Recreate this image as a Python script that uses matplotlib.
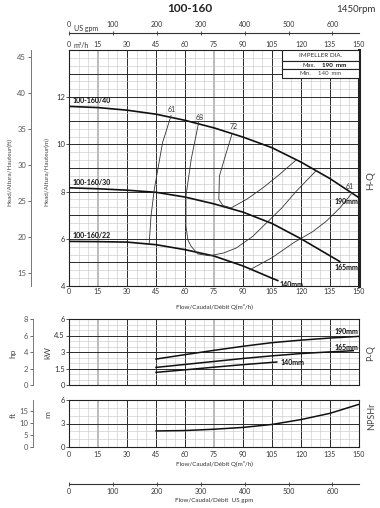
import numpy as np
import matplotlib
matplotlib.use("Agg")
import matplotlib.pyplot as plt
from matplotlib.patches import Rectangle

plt.rcParams['font.family'] = ['Lato', 'DejaVu Sans']

# flow scale
q_ticks = [0, 15, 30, 45, 60, 75, 90, 105, 120, 135, 150]
gpm_ticks = [0, 100, 200, 300, 400, 500, 600]
GPM = 0.22712  # m3/h for one US gpm

# H-Q curves (m3/h, m)
q_190 = [0, 15, 30, 45, 60, 75, 90, 105, 120, 135, 150]
h_190 = [11.61, 11.56, 11.45, 11.28, 11.02, 10.70, 10.31, 9.86, 9.25, 8.55, 7.74]
q_165 = [0, 15, 30, 45, 60, 75, 90, 105, 120, 135, 140]
h_165 = [8.16, 8.12, 8.06, 7.97, 7.77, 7.48, 7.13, 6.65, 6.00, 5.28, 5.04]
q_140 = [0, 15, 30, 45, 60, 75, 90, 105, 108]
h_140 = [5.89, 5.88, 5.86, 5.75, 5.54, 5.27, 4.85, 4.33, 4.23]

# efficiency lines (%)
q_e61a = [52.8, 48.4, 44.1, 42.4, 41.5]
h_e61a = [11.22, 10.08, 8.09, 6.95, 5.82]
q_e68 = [67.1, 63.2, 60.5, 60.5, 61.5, 63.2, 66.6, 72.7, 80, 86.5, 95, 102.1, 110, 117.6, 128.0]
h_e68 = [10.94, 9.37, 7.81, 6.53, 5.95, 5.68, 5.36, 5.28, 5.40, 5.61, 6.10, 6.67, 7.30, 8.02, 8.90]
q_e72 = [84.4, 81.0, 77.8, 77.5, 79.6, 83.9, 92.0, 100.3, 108.5, 117.5]
h_e72 = [10.47, 9.55, 8.66, 7.67, 7.41, 7.31, 7.68, 8.16, 8.70, 9.34]
q_e61b = [93.4, 105, 116.5, 126, 133, 140, 146.5]
h_e61b = [4.68, 5.20, 5.85, 6.30, 6.74, 7.30, 7.95]

# P-Q curves (kW)
q_p190 = [45, 60, 75, 90, 105, 120, 135, 150]
p_190 = [2.36, 2.76, 3.15, 3.52, 3.85, 4.08, 4.27, 4.42]
q_p165 = [45, 60, 75, 90, 105, 120, 135, 147]
p_165 = [1.60, 1.87, 2.14, 2.41, 2.65, 2.86, 3.01, 3.12]
q_p140 = [45, 60, 75, 90, 107.5]
p_140 = [1.15, 1.38, 1.62, 1.85, 2.09]

# NPSHr (m)
q_npsh = [45, 60, 75, 90, 105, 120, 135, 150]
npsh = [2.05, 2.10, 2.27, 2.50, 2.88, 3.50, 4.30, 5.45]

W, H = 380, 508
fig = plt.figure(figsize=(W / 100, H / 100), dpi=100)


def box(x0, y0, x1, y1):
    return [x0 / W, 1 - y1 / H, (x1 - x0) / W, (y1 - y0) / H]


def ftext(x, y, s, **kw):
    fig.text(x / W, 1 - y / H, s, **kw)


def draw_grid(ax, ylines, every):
    for x in range(0, 151, 5):
        if x % 15:
            ax.axvline(x, color='#c4c4c4', lw=0.4, zorder=0)
        elif x in (15, 75):
            ax.axvline(x, color='#a8a8a8', lw=1.1, zorder=0)
        else:
            ax.axvline(x, color='#2a2a2a', lw=0.7, zorder=0)
    for i, y in enumerate(ylines):
        if i % every:
            ax.axhline(y, color='#c4c4c4', lw=0.4, zorder=0)
        else:
            ax.axhline(y, color='#2a2a2a', lw=0.7, zorder=0)


def unit_axis(ax, factor, ticks, xpos):
    tw = ax.twinx()
    lo, hi = ax.get_ylim()
    tw.set_ylim(lo * factor, hi * factor)
    for s in ['top', 'right', 'bottom']:
        tw.spines[s].set_visible(False)
    tw.spines['left'].set_position(('axes', xpos))
    tw.spines['left'].set_color('#777')
    tw.spines['left'].set_linewidth(0.7)
    tw.yaxis.set_ticks_position('left')
    tw.set_yticks(ticks)
    tw.tick_params(axis='y', length=2.5, width=0.6, labelsize=5.5,
                   colors='#555', pad=1)
    return tw


def style_main(ax, yticks):
    ax.set_xlim(0, 150)
    ax.set_xticks(q_ticks)
    ax.set_yticks(yticks)
    for s in ax.spines.values():
        s.set_linewidth(0.8)
        s.set_color('#222')
    ax.tick_params(axis='y', length=2, width=0.6, labelsize=5.5,
                   colors='#333', pad=1)
    ax.tick_params(axis='x', length=0, labelsize=5, colors='#333', pad=3)


# ---------------- H-Q ----------------
ax_h = fig.add_axes(box(69, 50, 359, 286))
ax_h.set_ylim(4, 14)
style_main(ax_h, [4, 6, 8, 10, 12])
ax_h.tick_params(axis='x', labeltop=True, pad=1.5)
ax_h.spines['right'].set_linewidth(2.2)
draw_grid(ax_h, np.linspace(4, 14, 31), 3)

for q, h in [(q_190, h_190), (q_165, h_165), (q_140, h_140)]:
    ax_h.plot(q, h, color='#111', lw=1.2, zorder=3)
for q, h in [(q_e61a, h_e61a), (q_e68, h_e68), (q_e72, h_e72), (q_e61b, h_e61b)]:
    ax_h.plot(q, h, color='#333', lw=0.6, zorder=3)

lbl = dict(fontsize=5, fontweight='bold', color='#111', zorder=5)
ax_h.text(2, 11.72, '100-160/40', ha='left', va='bottom', **lbl)
ax_h.text(2, 8.25, '100-160/30', ha='left', va='bottom', **lbl)
ax_h.text(2, 5.98, '100-160/22', ha='left', va='bottom', **lbl)
ax_h.text(149.5, 7.58, '190mm', ha='right', va='center', **lbl)
ax_h.text(149.5, 4.77, '165mm', ha='right', va='center', **lbl)
ax_h.text(109, 4.06, '140mm', ha='left', va='center', **lbl)
for q, h, s in [(53.1, 11.46, '61'), (67.8, 11.15, '68'),
                (85.1, 10.75, '72'), (145.4, 8.23, '61')]:
    ax_h.text(q, h, s, ha='center', va='center', fontsize=5, color='#333',
              zorder=5)

# impeller box
rows = [(13.54, 14.0), (13.18, 13.54), (12.81, 13.18)]
for y0, y1 in rows:
    ax_h.add_patch(Rectangle((110.4, y0), 150 - 110.4, y1 - y0, fc='white',
                             ec='#222', lw=0.8, zorder=6))
ax_h.text(130.2, 13.77, 'IMPELLER DIA.', ha='center', va='center',
          fontsize=4.5, color='#333', zorder=7)
ax_h.text(124.2, 13.36, 'Max.', ha='center', va='center', fontsize=4.3,
          color='#222', zorder=7)
ax_h.text(137.0, 13.36, '190  mm', ha='center', va='center', fontsize=4.5,
          fontweight='bold', color='#111', zorder=7)
ax_h.text(122.5, 12.99, 'Min.', ha='center', va='center', fontsize=4.3,
          color='#444', zorder=7)
ax_h.text(135.0, 12.99, '140  mm', ha='center', va='center', fontsize=4.3,
          color='#444', zorder=7)

unit_axis(ax_h, 3.28084, [15, 20, 25, 30, 35, 40, 45], (31 - 69) / 290)

# ---------------- P-Q ----------------
ax_p = fig.add_axes(box(69, 319, 359, 385))
ax_p.set_ylim(0, 6)
style_main(ax_p, [0, 1.5, 3, 4.5, 6])
ax_p.set_yticklabels(['0', '1.5', '3', '4.5', '6'])
ax_p.tick_params(axis='x', labelbottom=False)
draw_grid(ax_p, np.linspace(0, 6, 13), 3)
for q, p in [(q_p190, p_190), (q_p165, p_165), (q_p140, p_140)]:
    ax_p.plot(q, p, color='#111', lw=1.1, zorder=3)
ax_p.text(149.5, 4.87, '190mm', ha='right', va='center', **lbl)
ax_p.text(149.5, 3.42, '165mm', ha='right', va='center', **lbl)
ax_p.text(109.5, 2.05, '140mm', ha='left', va='center', **lbl)
unit_axis(ax_p, 1.34102, [0, 2, 4, 6, 8], (33 - 69) / 290)

# ---------------- NPSHr ----------------
ax_n = fig.add_axes(box(69, 400, 359, 447))
ax_n.set_ylim(0, 6)
style_main(ax_n, [0, 3, 6])
draw_grid(ax_n, np.linspace(0, 6, 7), 3)
ax_n.plot(q_npsh, npsh, color='#111', lw=1.1, zorder=3)
unit_axis(ax_n, 3.28084, [0, 5, 10, 15], (33 - 69) / 290)
ax_n.set_xlabel('Flow/Caudal/Débit Q(m³/h)', fontsize=4.5, color='#333',
                labelpad=2)

# ---------------- US gpm scales ----------------
for y, top in [(33, True), (483, False)]:
    g = fig.add_axes(box(69, y - 0.5, 359, y + 0.5))
    g.set_xlim(0, 150 / GPM)
    g.set_yticks([])
    g.patch.set_visible(False)
    for s in g.spines.values():
        s.set_visible(False)
    side = 'top' if top else 'bottom'
    g.spines[side].set_visible(True)
    g.spines[side].set_linewidth(0.8)
    g.spines[side].set_color('#333')
    g.xaxis.set_ticks_position(side)
    g.set_xticks(gpm_ticks)
    g.tick_params(axis='x', direction='inout', length=3, width=0.6,
                  labelsize=5, colors='#333', pad=1.5)
    if not top:
        g.set_xlabel('Flow/Caudal/Débit  US gpm', fontsize=4.5, color='#333',
                     labelpad=2.5)

# ---------------- texts ----------------
ftext(190, 9, '100-160', ha='center', va='center', fontsize=8.5,
      fontweight='bold', color='#222')
ftext(376, 9, '1450rpm', ha='right', va='center', fontsize=7, color='#333')
ftext(74, 28, 'US gpm', ha='left', va='center', fontsize=5, color='#333')
ftext(74, 45, 'm³/h', ha='left', va='center', fontsize=5, color='#333')
ftext(214, 306.5, 'Flow/Caudal/Débit Q(m³/h)', ha='center', va='center',
      fontsize=4.5, color='#333')

side_lbl = dict(rotation=90, ha='center', va='center', color='#444')
ftext(10, 172, 'Head/Altura/Hauteur(ft)', fontsize=4.5, **side_lbl)
ftext(47, 172, 'Head/Altura/Hauteur(m)', fontsize=4.5, **side_lbl)
ftext(13, 353, 'hp', fontsize=6, **side_lbl)
ftext(48, 353, 'kW', fontsize=6, **side_lbl)
ftext(13, 415, 'ft', fontsize=6, **side_lbl)
ftext(48, 415, 'm', fontsize=6, **side_lbl)
ftext(371, 181, 'H-Q', fontsize=7, **side_lbl)
ftext(371, 353, 'P-Q', fontsize=6.5, **side_lbl)
ftext(372, 416, 'NPSHr', fontsize=6.5, **side_lbl)

fig.savefig('out.png', dpi=100)
